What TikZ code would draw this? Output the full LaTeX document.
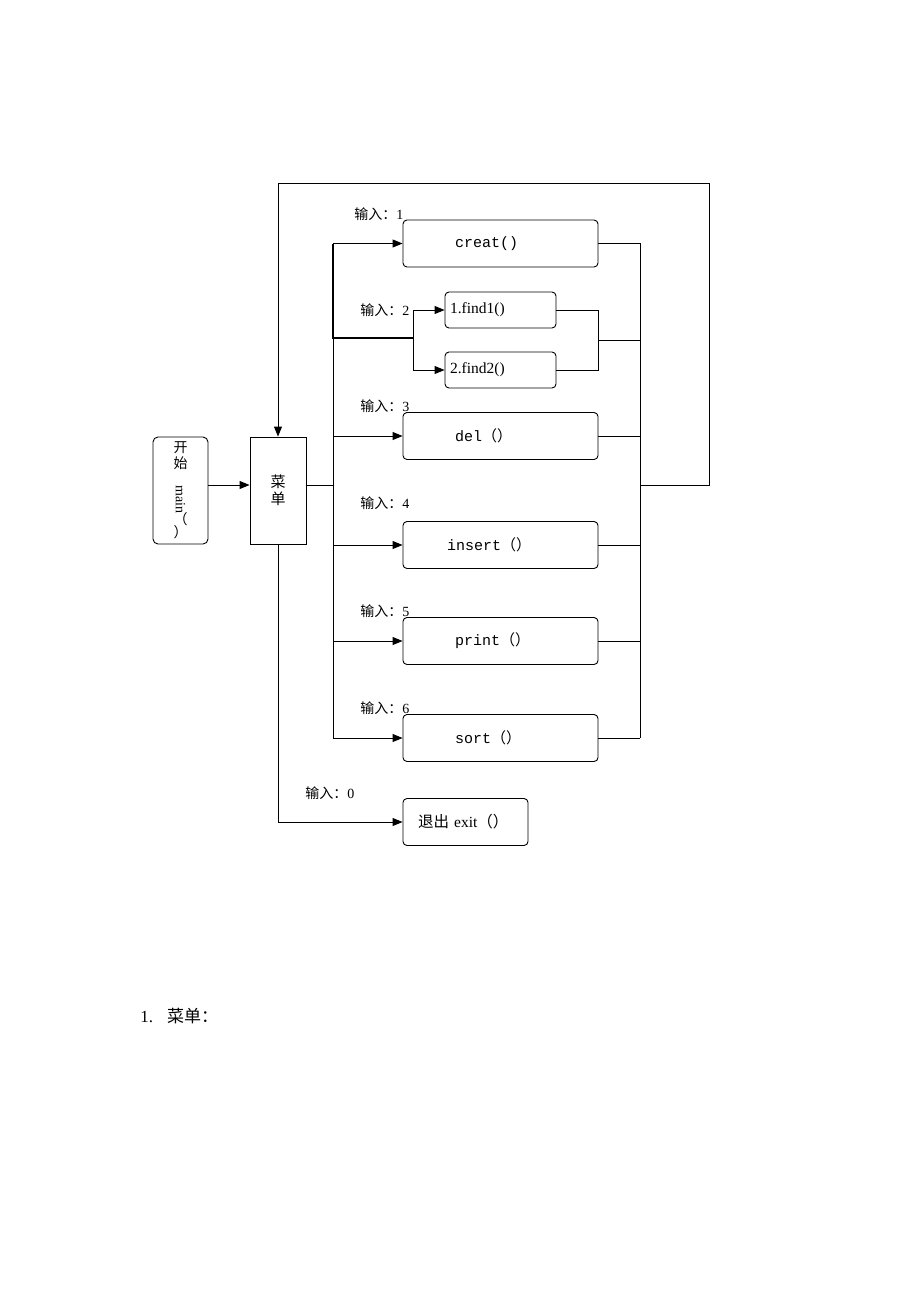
\documentclass[tikz,border=0pt]{standalone}
\usepackage{fontspec}
\setmainfont{Liberation Serif}
\setmonofont{Liberation Mono}
\newfontfamily\cjk{Noto Sans CJK SC}
\usetikzlibrary{arrows.meta}

\tikzset{
  fbox/.style={draw, rounded corners=4pt, line width=0.9pt, inner sep=0pt,
    minimum width=195, minimum height=47, text width=195, align=left,
    font=\fontsize{15}{17}\selectfont\ttfamily},
  sbox/.style={draw, rounded corners=4pt, line width=0.9pt, inner sep=0pt,
    minimum width=111, minimum height=36, text width=111, align=left,
    font=\fontsize{15.5}{17}\selectfont},
  lbl/.style={anchor=west, inner sep=0pt, font=\fontsize{14}{16}\selectfont},
  arr/.style={-{Triangle[length=10pt,width=8pt]}},
  wire/.style={line width=0.9pt},
  bold wire/.style={line width=1.8pt},
}

\begin{document}
\begin{tikzpicture}[x=1pt,y=-1pt,wire]
  \useasboundingbox (0,0) rectangle (920,1302);

  % start and menu
  \node[draw, rounded corners=5pt, minimum width=55, minimum height=107, inner sep=0pt,
    align=center, font=\fontsize{14}{16}\selectfont] (start) at (180.5,490.5)
    {{\cjk 开}\\{\cjk 始}\\[1pt]\rotatebox{-90}{main}\\[-2pt]{\cjk （}\\[-3pt]{\cjk ）}};
  \node[draw, minimum width=56, minimum height=107, inner sep=0pt, align=center,
    font=\fontsize{15}{17}\selectfont\cjk] (menu) at (278,490.5) {菜\\单};

  % functions
  \node[fbox] (creat)  at (500.5,243.5) {\hspace*{52pt}creat()};
  \node[sbox] (findA)  at (500.5,310)   {\hspace*{5pt}1.find1()};
  \node[sbox] (findB)  at (500.5,370)   {\hspace*{5pt}2.find2()};
  \node[fbox] (del)    at (500.5,436)   {\hspace*{52pt}del{\cjk （）}};
  \node[fbox] (insert) at (500.5,545)   {\hspace*{44pt}insert{\cjk （）}};
  \node[fbox] (print)  at (500.5,641)   {\hspace*{52pt}print{\cjk （）}};
  \node[fbox] (sort)   at (500.5,738)   {\hspace*{52pt}sort{\cjk （）}};
  \node[fbox, minimum width=125, text width=125, font=\fontsize{15.5}{17}\selectfont]
    (exit) at (465.5,822) {\hspace*{15pt}{\cjk 退出} exit{\cjk （）}};

  % labels
  \node[lbl] (in1) at (354,214) {{\cjk 输入：}1};
  \node[lbl] (in2) at (360,310) {{\cjk 输入：}2};
  \node[lbl] (in3) at (360,406) {{\cjk 输入：}3};
  \node[lbl] (in4) at (360,503) {{\cjk 输入：}4};
  \node[lbl] (in5) at (360,611) {{\cjk 输入：}5};
  \node[lbl] (in6) at (360,708) {{\cjk 输入：}6};
  \node[lbl] (in0) at (305,793) {{\cjk 输入：}0};

  \node[anchor=west, inner sep=0pt, font=\fontsize{17}{19}\selectfont] (title) at (140,1016)
    {1.\hspace{14pt}{\cjk 菜单：}};

  % bus lines
  \coordinate (mid)  at (0,485);
  \coordinate (bus)  at (333,0);
  \coordinate (rbus) at (640,0);
  \coordinate (fork) at (413,338);
  \coordinate (join) at (598,340);

  \draw[arr] (start.east|-mid) -- (menu.west|-mid);
  \draw (menu.east|-mid) -- (bus|-mid);
  \draw (bus|-creat.west) -- (bus|-sort.west);
  \draw[bold wire] (bus|-creat.west) -- (bus|-fork) -- (fork);
  \draw[arr] (bus|-creat.west) -- (creat.west);
  \draw[arr] (fork|-findA.west) -- (findA.west);
  \draw[arr] (fork) |- (findB.west);
  \draw (fork) -- (fork|-findA.west);
  \foreach \n in {del,insert,print,sort}{
    \draw[arr] (bus|-\n.west) -- (\n.west);
    \draw (\n.east) -- (rbus|-\n.east);
  }

  % return side
  \draw (creat.east) -- (rbus|-creat.east) -- (rbus|-sort.east);
  \draw (findA.east) -- (join|-findA.east) -- (join|-findB.east) -- (findB.east);
  \draw (join) -- (rbus|-join);
  \draw[arr] (rbus|-mid) -- (709,485) -- (709,183) -- (menu.north|-0,183) -- (menu.north);

  % exit
  \draw[arr] (menu.south) |- (exit.west);
\end{tikzpicture}
\end{document}
